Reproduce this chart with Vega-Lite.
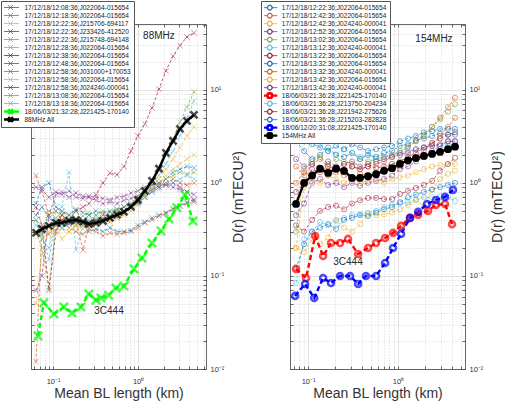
{
"$schema":"https://vega.github.io/schema/vega-lite/v6.json",
"padding":0,
"background":"white",
"config":{
 "font":"Liberation Sans",
 "view":{"stroke":null},
 "concat":{"spacing":14},
 "axis":{"domainColor":"#444","domainWidth":0.8,"tickColor":"#444","tickWidth":0.8,"labelColor":"#333","titleColor":"#333","labelFontSize":7.5,"titleFontSize":14,"titleFontWeight":"normal","labelOverlap":false,"labelFlush":false,"labelBound":false,"gridWidth":0.6}
},
"datasets":{
"N":[
{"k":"a1","label":"17/12/18/12:08:36;J022064-015654"},
{"k":"a2","label":"17/12/18/12:18:36;J022064-015654"},
{"k":"a3","label":"17/12/18/12:22:36;J215706-694117"},
{"k":"a4","label":"17/12/18/12:22:36;J233426-412520"},
{"k":"a5","label":"17/12/18/12:22:36;J215748-694148"},
{"k":"a6","label":"17/12/18/12:28:36;J022064-015654"},
{"k":"a7","label":"17/12/18/12:38:36;J022064-015654"},
{"k":"a8","label":"17/12/18/12:48:36;J022064-015654"},
{"k":"a9","label":"17/12/18/12:58:36;J031000+170053"},
{"k":"a10","label":"17/12/18/12:58:36;J022064-015654"},
{"k":"a11","label":"17/12/18/12:58:36;J024240-000041"},
{"k":"a12","label":"17/12/18/13:08:36;J022064-015654"},
{"k":"a13","label":"17/12/18/13:18:36;J022064-015654"},
{"k":"a14","label":"18/06/03/21:32:28;J221425-170140"},
{"k":"a15","label":"88MHz All"},
{"k":"b1","label":"17/12/18/12:22:36;J022064-015654"},
{"k":"b2","label":"17/12/18/12:42:36;J022064-015654"},
{"k":"b3","label":"17/12/18/12:42:36;J024240-000041"},
{"k":"b4","label":"17/12/18/12:52:36;J022064-015654"},
{"k":"b5","label":"17/12/18/13:02:36;J022064-015654"},
{"k":"b6","label":"17/12/18/13:12:36;J024240-000041"},
{"k":"b7","label":"17/12/18/13:22:36;J022064-015654"},
{"k":"b8","label":"17/12/18/13:32:36;J022064-015654"},
{"k":"b9","label":"17/12/18/13:32:36;J024240-000041"},
{"k":"b10","label":"17/12/18/13:42:36;J022064-015654"},
{"k":"b11","label":"17/12/18/13:42:36;J024240-000041"},
{"k":"b12","label":"18/06/03/21:36:28;J221425-170140"},
{"k":"b13","label":"18/06/03/21:36:28;J213750-204234"},
{"k":"b14","label":"18/06/03/21:36:28;J221942-275626"},
{"k":"b15","label":"18/06/03/21:36:28;J215203-282828"},
{"k":"b16","label":"18/06/12/20:31:08;J221425-170140"},
{"k":"b17","label":"154MHz All"}
],
"L":[
{"k":"a1","x":0.063,"y":0.45},{"k":"a1","x":0.074,"y":0.55},{"k":"a1","x":0.0895,"y":0.42},{"k":"a1","x":0.108,"y":0.38},{"k":"a1","x":0.127,"y":0.33},{"k":"a1","x":0.154,"y":0.36},{"k":"a1","x":0.186,"y":0.40},{"k":"a1","x":0.225,"y":0.35},{"k":"a1","x":0.264,"y":0.30},{"k":"a1","x":0.32,"y":0.32},{"k":"a1","x":0.386,"y":0.30},{"k":"a1","x":0.467,"y":0.33},{"k":"a1","x":0.565,"y":0.30},{"k":"a1","x":0.683,"y":0.30},{"k":"a1","x":0.825,"y":0.31},{"k":"a1","x":0.996,"y":0.35},{"k":"a1","x":1.2,"y":0.38},{"k":"a1","x":1.46,"y":0.42},{"k":"a1","x":1.76,"y":0.45},{"k":"a1","x":2.13,"y":0.48},{"k":"a1","x":2.58,"y":0.53},{"k":"a1","x":3.11,"y":0.56},{"k":"a1","x":3.76,"y":0.62},{"k":"a1","x":4.55,"y":0.66},
{"k":"a2","x":0.063,"y":0.012},{"k":"a2","x":0.074,"y":0.30},{"k":"a2","x":0.0895,"y":0.28},{"k":"a2","x":0.108,"y":0.35},{"k":"a2","x":0.127,"y":0.40},{"k":"a2","x":0.154,"y":0.33},{"k":"a2","x":0.186,"y":0.30},{"k":"a2","x":0.225,"y":0.28},{"k":"a2","x":0.264,"y":0.32},{"k":"a2","x":0.32,"y":0.30},{"k":"a2","x":0.386,"y":0.27},{"k":"a2","x":0.467,"y":0.29},{"k":"a2","x":0.565,"y":0.28},{"k":"a2","x":0.683,"y":0.29},{"k":"a2","x":0.825,"y":0.30},{"k":"a2","x":0.996,"y":0.33},{"k":"a2","x":1.2,"y":0.37},{"k":"a2","x":1.46,"y":0.40},{"k":"a2","x":1.76,"y":0.44},{"k":"a2","x":2.13,"y":0.47},{"k":"a2","x":2.58,"y":0.52},{"k":"a2","x":3.11,"y":0.57},{"k":"a2","x":3.76,"y":0.60},{"k":"a2","x":4.55,"y":0.62},
{"k":"a3","x":0.063,"y":0.05},{"k":"a3","x":0.074,"y":0.17},{"k":"a3","x":0.0895,"y":0.30},{"k":"a3","x":0.108,"y":0.35},{"k":"a3","x":0.127,"y":0.25},{"k":"a3","x":0.154,"y":0.30},{"k":"a3","x":0.186,"y":0.35},{"k":"a3","x":0.225,"y":0.32},{"k":"a3","x":0.264,"y":0.38},{"k":"a3","x":0.32,"y":0.35},{"k":"a3","x":0.386,"y":0.40},{"k":"a3","x":0.467,"y":0.38},{"k":"a3","x":0.565,"y":0.42},{"k":"a3","x":0.683,"y":0.48},{"k":"a3","x":0.825,"y":0.55},{"k":"a3","x":0.996,"y":0.62},{"k":"a3","x":1.2,"y":0.75},{"k":"a3","x":1.46,"y":0.90},{"k":"a3","x":1.76,"y":1.10},{"k":"a3","x":2.13,"y":1.40},{"k":"a3","x":2.58,"y":1.80},{"k":"a3","x":3.11,"y":2.40},{"k":"a3","x":3.76,"y":3.20},{"k":"a3","x":4.55,"y":4.0},
{"k":"a4","x":0.063,"y":0.07},{"k":"a4","x":0.074,"y":0.10},{"k":"a4","x":0.0895,"y":0.45},{"k":"a4","x":0.108,"y":0.75},{"k":"a4","x":0.127,"y":0.80},{"k":"a4","x":0.154,"y":0.70},{"k":"a4","x":0.186,"y":0.78},{"k":"a4","x":0.225,"y":0.72},{"k":"a4","x":0.264,"y":0.70},{"k":"a4","x":0.32,"y":0.65},{"k":"a4","x":0.386,"y":0.60},{"k":"a4","x":0.467,"y":0.62},{"k":"a4","x":0.565,"y":0.60},{"k":"a4","x":0.683,"y":0.65},{"k":"a4","x":0.825,"y":0.68},{"k":"a4","x":0.996,"y":0.72},{"k":"a4","x":1.2,"y":0.80},{"k":"a4","x":1.46,"y":0.85},{"k":"a4","x":1.76,"y":0.90},{"k":"a4","x":2.13,"y":0.95},{"k":"a4","x":2.58,"y":1.00},{"k":"a4","x":3.11,"y":0.90},{"k":"a4","x":3.76,"y":0.80},{"k":"a4","x":4.55,"y":0.65},
{"k":"a5","x":0.063,"y":0.30},{"k":"a5","x":0.074,"y":0.20},{"k":"a5","x":0.0895,"y":0.074},{"k":"a5","x":0.108,"y":0.35},{"k":"a5","x":0.127,"y":0.45},{"k":"a5","x":0.154,"y":0.40},{"k":"a5","x":0.186,"y":0.50},{"k":"a5","x":0.225,"y":0.38},{"k":"a5","x":0.264,"y":0.45},{"k":"a5","x":0.32,"y":0.40},{"k":"a5","x":0.386,"y":0.42},{"k":"a5","x":0.467,"y":0.45},{"k":"a5","x":0.565,"y":0.50},{"k":"a5","x":0.683,"y":0.55},{"k":"a5","x":0.825,"y":0.60},{"k":"a5","x":0.996,"y":0.70},{"k":"a5","x":1.2,"y":0.85},{"k":"a5","x":1.46,"y":1.10},{"k":"a5","x":1.76,"y":1.50},{"k":"a5","x":2.13,"y":2.00},{"k":"a5","x":2.58,"y":3.00},{"k":"a5","x":3.11,"y":4.50},{"k":"a5","x":3.76,"y":6.50},{"k":"a5","x":4.55,"y":9.5},
{"k":"a6","x":0.063,"y":0.40},{"k":"a6","x":0.074,"y":0.25},{"k":"a6","x":0.0895,"y":0.20},{"k":"a6","x":0.108,"y":0.50},{"k":"a6","x":0.127,"y":0.55},{"k":"a6","x":0.154,"y":1.30},{"k":"a6","x":0.186,"y":0.19},{"k":"a6","x":0.225,"y":0.35},{"k":"a6","x":0.264,"y":0.40},{"k":"a6","x":0.32,"y":0.45},{"k":"a6","x":0.386,"y":0.38},{"k":"a6","x":0.467,"y":0.42},{"k":"a6","x":0.565,"y":0.45},{"k":"a6","x":0.683,"y":0.50},{"k":"a6","x":0.825,"y":0.55},{"k":"a6","x":0.996,"y":0.62},{"k":"a6","x":1.2,"y":0.75},{"k":"a6","x":1.46,"y":0.95},{"k":"a6","x":1.76,"y":1.20},{"k":"a6","x":2.13,"y":1.60},{"k":"a6","x":2.58,"y":2.20},{"k":"a6","x":3.11,"y":3.20},{"k":"a6","x":3.76,"y":5.00},{"k":"a6","x":4.55,"y":7.6},
{"k":"a7","x":0.063,"y":0.55},{"k":"a7","x":0.074,"y":0.35},{"k":"a7","x":0.0895,"y":0.07},{"k":"a7","x":0.108,"y":0.30},{"k":"a7","x":0.127,"y":0.45},{"k":"a7","x":0.154,"y":0.40},{"k":"a7","x":0.186,"y":0.50},{"k":"a7","x":0.225,"y":0.55},{"k":"a7","x":0.264,"y":0.60},{"k":"a7","x":0.32,"y":0.75},{"k":"a7","x":0.386,"y":1.0},{"k":"a7","x":0.467,"y":1.28},{"k":"a7","x":0.565,"y":1.22},{"k":"a7","x":0.683,"y":1.5},{"k":"a7","x":0.825,"y":2.2},{"k":"a7","x":0.996,"y":3.2},{"k":"a7","x":1.2,"y":4.3},{"k":"a7","x":1.46,"y":6.4},{"k":"a7","x":1.76,"y":10.2},{"k":"a7","x":2.13,"y":16},{"k":"a7","x":2.58,"y":23},{"k":"a7","x":3.11,"y":30},{"k":"a7","x":3.76,"y":37},{"k":"a7","x":4.55,"y":41},
{"k":"a8","x":0.063,"y":0.60},{"k":"a8","x":0.074,"y":0.90},{"k":"a8","x":0.0895,"y":1.00},{"k":"a8","x":0.108,"y":0.55},{"k":"a8","x":0.127,"y":0.50},{"k":"a8","x":0.154,"y":0.45},{"k":"a8","x":0.186,"y":0.52},{"k":"a8","x":0.225,"y":0.48},{"k":"a8","x":0.264,"y":0.45},{"k":"a8","x":0.32,"y":0.50},{"k":"a8","x":0.386,"y":0.47},{"k":"a8","x":0.467,"y":0.50},{"k":"a8","x":0.565,"y":0.52},{"k":"a8","x":0.683,"y":0.55},{"k":"a8","x":0.825,"y":0.58},{"k":"a8","x":0.996,"y":0.62},{"k":"a8","x":1.2,"y":0.70},{"k":"a8","x":1.46,"y":0.80},{"k":"a8","x":1.76,"y":0.95},{"k":"a8","x":2.13,"y":1.10},{"k":"a8","x":2.58,"y":1.30},{"k":"a8","x":3.11,"y":1.40},{"k":"a8","x":3.76,"y":1.50},{"k":"a8","x":4.55,"y":1.45},
{"k":"a9","x":0.063,"y":1.20},{"k":"a9","x":0.074,"y":0.80},{"k":"a9","x":0.0895,"y":0.45},{"k":"a9","x":0.108,"y":0.50},{"k":"a9","x":0.127,"y":0.40},{"k":"a9","x":0.154,"y":0.45},{"k":"a9","x":0.186,"y":0.38},{"k":"a9","x":0.225,"y":0.19},{"k":"a9","x":0.264,"y":0.35},{"k":"a9","x":0.32,"y":0.40},{"k":"a9","x":0.386,"y":0.45},{"k":"a9","x":0.467,"y":0.42},{"k":"a9","x":0.565,"y":0.48},{"k":"a9","x":0.683,"y":0.50},{"k":"a9","x":0.825,"y":0.55},{"k":"a9","x":0.996,"y":0.60},{"k":"a9","x":1.2,"y":0.70},{"k":"a9","x":1.46,"y":0.80},{"k":"a9","x":1.76,"y":0.90},{"k":"a9","x":2.13,"y":1.00},{"k":"a9","x":2.58,"y":1.10},{"k":"a9","x":3.11,"y":1.00},{"k":"a9","x":3.76,"y":0.95},{"k":"a9","x":4.55,"y":1.00},
{"k":"a10","x":0.063,"y":0.30},{"k":"a10","x":0.074,"y":0.25},{"k":"a10","x":0.0895,"y":0.35},{"k":"a10","x":0.108,"y":0.28},{"k":"a10","x":0.127,"y":0.32},{"k":"a10","x":0.154,"y":0.30},{"k":"a10","x":0.186,"y":0.34},{"k":"a10","x":0.225,"y":0.36},{"k":"a10","x":0.264,"y":0.33},{"k":"a10","x":0.32,"y":0.38},{"k":"a10","x":0.386,"y":0.40},{"k":"a10","x":0.467,"y":0.38},{"k":"a10","x":0.565,"y":0.42},{"k":"a10","x":0.683,"y":0.45},{"k":"a10","x":0.825,"y":0.50},{"k":"a10","x":0.996,"y":0.58},{"k":"a10","x":1.2,"y":0.70},{"k":"a10","x":1.46,"y":0.85},{"k":"a10","x":1.76,"y":1.00},{"k":"a10","x":2.13,"y":1.20},{"k":"a10","x":2.58,"y":1.40},{"k":"a10","x":3.11,"y":1.60},{"k":"a10","x":3.76,"y":1.80},{"k":"a10","x":4.55,"y":2.0},
{"k":"a11","x":0.063,"y":0.90},{"k":"a11","x":0.074,"y":0.85},{"k":"a11","x":0.0895,"y":0.70},{"k":"a11","x":0.108,"y":0.80},{"k":"a11","x":0.127,"y":0.75},{"k":"a11","x":0.154,"y":0.82},{"k":"a11","x":0.186,"y":0.70},{"k":"a11","x":0.225,"y":0.68},{"k":"a11","x":0.264,"y":0.72},{"k":"a11","x":0.32,"y":0.70},{"k":"a11","x":0.386,"y":0.68},{"k":"a11","x":0.467,"y":0.66},{"k":"a11","x":0.565,"y":0.70},{"k":"a11","x":0.683,"y":0.72},{"k":"a11","x":0.825,"y":0.78},{"k":"a11","x":0.996,"y":0.82},{"k":"a11","x":1.2,"y":0.90},{"k":"a11","x":1.46,"y":0.95},{"k":"a11","x":1.76,"y":1.00},{"k":"a11","x":2.13,"y":0.95},{"k":"a11","x":2.58,"y":0.90},{"k":"a11","x":3.11,"y":0.85},{"k":"a11","x":3.76,"y":0.80},{"k":"a11","x":4.55,"y":0.75},
{"k":"a12","x":0.063,"y":0.40},{"k":"a12","x":0.074,"y":0.28},{"k":"a12","x":0.0895,"y":0.50},{"k":"a12","x":0.108,"y":0.42},{"k":"a12","x":0.127,"y":0.48},{"k":"a12","x":0.154,"y":0.45},{"k":"a12","x":0.186,"y":0.40},{"k":"a12","x":0.225,"y":0.44},{"k":"a12","x":0.264,"y":0.48},{"k":"a12","x":0.32,"y":0.45},{"k":"a12","x":0.386,"y":0.50},{"k":"a12","x":0.467,"y":0.48},{"k":"a12","x":0.565,"y":0.52},{"k":"a12","x":0.683,"y":0.55},{"k":"a12","x":0.825,"y":0.60},{"k":"a12","x":0.996,"y":0.65},{"k":"a12","x":1.2,"y":0.75},{"k":"a12","x":1.46,"y":0.85},{"k":"a12","x":1.76,"y":1.00},{"k":"a12","x":2.13,"y":1.10},{"k":"a12","x":2.58,"y":1.20},{"k":"a12","x":3.11,"y":1.30},{"k":"a12","x":3.76,"y":1.25},{"k":"a12","x":4.55,"y":1.30},
{"k":"a13","x":0.063,"y":0.35},{"k":"a13","x":0.074,"y":0.30},{"k":"a13","x":0.0895,"y":0.15},{"k":"a13","x":0.108,"y":0.40},{"k":"a13","x":0.127,"y":0.38},{"k":"a13","x":0.154,"y":0.42},{"k":"a13","x":0.186,"y":0.36},{"k":"a13","x":0.225,"y":0.40},{"k":"a13","x":0.264,"y":0.38},{"k":"a13","x":0.32,"y":0.42},{"k":"a13","x":0.386,"y":0.40},{"k":"a13","x":0.467,"y":0.44},{"k":"a13","x":0.565,"y":0.46},{"k":"a13","x":0.683,"y":0.50},{"k":"a13","x":0.825,"y":0.55},{"k":"a13","x":0.996,"y":0.60},{"k":"a13","x":1.2,"y":0.70},{"k":"a13","x":1.46,"y":0.80},{"k":"a13","x":1.76,"y":0.85},{"k":"a13","x":2.13,"y":0.95},{"k":"a13","x":2.58,"y":1.00},{"k":"a13","x":3.11,"y":1.10},{"k":"a13","x":3.76,"y":1.20},{"k":"a13","x":4.55,"y":1.10},
{"k":"a14","x":0.0664,"y":0.0227},{"k":"a14","x":0.078,"y":0.0513},{"k":"a14","x":0.1025,"y":0.039},{"k":"a14","x":0.134,"y":0.0464},{"k":"a14","x":0.167,"y":0.040},{"k":"a14","x":0.213,"y":0.0464},{"k":"a14","x":0.264,"y":0.064},{"k":"a14","x":0.32,"y":0.055},{"k":"a14","x":0.366,"y":0.058},{"k":"a14","x":0.45,"y":0.062},{"k":"a14","x":0.55,"y":0.0743},{"k":"a14","x":0.683,"y":0.078},{"k":"a14","x":0.895,"y":0.119},{"k":"a14","x":1.11,"y":0.156},{"k":"a14","x":1.46,"y":0.226},{"k":"a14","x":1.86,"y":0.305},{"k":"a14","x":2.31,"y":0.41},{"k":"a14","x":2.87,"y":0.54},{"k":"a14","x":3.56,"y":0.743},{"k":"a14","x":4.43,"y":0.39},
{"k":"a15","x":0.063,"y":0.29},{"k":"a15","x":0.074,"y":0.32},{"k":"a15","x":0.0895,"y":0.345},{"k":"a15","x":0.108,"y":0.372},{"k":"a15","x":0.127,"y":0.372},{"k":"a15","x":0.154,"y":0.39},{"k":"a15","x":0.186,"y":0.40},{"k":"a15","x":0.225,"y":0.381},{"k":"a15","x":0.264,"y":0.362},{"k":"a15","x":0.32,"y":0.372},{"k":"a15","x":0.386,"y":0.39},{"k":"a15","x":0.467,"y":0.421},{"k":"a15","x":0.565,"y":0.453},{"k":"a15","x":0.683,"y":0.488},{"k":"a15","x":0.825,"y":0.552},{"k":"a15","x":0.996,"y":0.656},{"k":"a15","x":1.2,"y":0.82},{"k":"a15","x":1.46,"y":1.05},{"k":"a15","x":1.76,"y":1.42},{"k":"a15","x":2.13,"y":2.1},{"k":"a15","x":2.58,"y":2.83},{"k":"a15","x":3.11,"y":3.81},{"k":"a15","x":3.76,"y":4.64},{"k":"a15","x":4.55,"y":5.38}
],
"R":[
{"k":"b1","x":0.0735,"y":2.8},{"k":"b1","x":0.0903,"y":2.2},{"k":"b1","x":0.111,"y":1.8},{"k":"b1","x":0.136,"y":2.0},{"k":"b1","x":0.167,"y":2.4},{"k":"b1","x":0.205,"y":2.0},{"k":"b1","x":0.251,"y":1.9},{"k":"b1","x":0.308,"y":2.1},{"k":"b1","x":0.378,"y":1.8},{"k":"b1","x":0.464,"y":2.0},{"k":"b1","x":0.57,"y":1.9},{"k":"b1","x":0.699,"y":2.1},{"k":"b1","x":0.858,"y":2.2},{"k":"b1","x":1.05,"y":2.5},{"k":"b1","x":1.29,"y":2.6},{"k":"b1","x":1.58,"y":2.9},{"k":"b1","x":1.94,"y":3.0},{"k":"b1","x":2.39,"y":3.2},{"k":"b1","x":2.93,"y":3.4},{"k":"b1","x":3.59,"y":3.3},{"k":"b1","x":4.3,"y":3.3},
{"k":"b2","x":0.0735,"y":1.5},{"k":"b2","x":0.0903,"y":1.2},{"k":"b2","x":0.111,"y":1.6},{"k":"b2","x":0.136,"y":1.8},{"k":"b2","x":0.167,"y":1.5},{"k":"b2","x":0.205,"y":1.4},{"k":"b2","x":0.251,"y":1.6},{"k":"b2","x":0.308,"y":1.5},{"k":"b2","x":0.378,"y":1.4},{"k":"b2","x":0.464,"y":1.5},{"k":"b2","x":0.57,"y":1.6},{"k":"b2","x":0.699,"y":1.7},{"k":"b2","x":0.858,"y":1.9},{"k":"b2","x":1.05,"y":2.1},{"k":"b2","x":1.29,"y":2.4},{"k":"b2","x":1.58,"y":2.8},{"k":"b2","x":1.94,"y":3.2},{"k":"b2","x":2.39,"y":4.0},{"k":"b2","x":2.93,"y":5.0},{"k":"b2","x":3.59,"y":6.5},{"k":"b2","x":4.3,"y":8.2},
{"k":"b3","x":0.0735,"y":0.20},{"k":"b3","x":0.0903,"y":0.18},{"k":"b3","x":0.111,"y":0.25},{"k":"b3","x":0.136,"y":0.22},{"k":"b3","x":0.167,"y":0.26},{"k":"b3","x":0.205,"y":0.39},{"k":"b3","x":0.251,"y":0.33},{"k":"b3","x":0.308,"y":0.30},{"k":"b3","x":0.378,"y":0.36},{"k":"b3","x":0.464,"y":0.46},{"k":"b3","x":0.57,"y":0.45},{"k":"b3","x":0.699,"y":0.46},{"k":"b3","x":0.858,"y":0.48},{"k":"b3","x":1.05,"y":0.52},{"k":"b3","x":1.29,"y":0.58},{"k":"b3","x":1.58,"y":0.65},{"k":"b3","x":1.94,"y":0.56},{"k":"b3","x":2.39,"y":0.85},{"k":"b3","x":2.93,"y":1.1},{"k":"b3","x":3.59,"y":1.25},{"k":"b3","x":4.3,"y":1.35},
{"k":"b4","x":0.0735,"y":0.45},{"k":"b4","x":0.0903,"y":0.6},{"k":"b4","x":0.111,"y":1.0},{"k":"b4","x":0.136,"y":1.1},{"k":"b4","x":0.167,"y":0.95},{"k":"b4","x":0.205,"y":1.0},{"k":"b4","x":0.251,"y":0.9},{"k":"b4","x":0.308,"y":1.0},{"k":"b4","x":0.378,"y":0.93},{"k":"b4","x":0.464,"y":1.0},{"k":"b4","x":0.57,"y":1.05},{"k":"b4","x":0.699,"y":1.1},{"k":"b4","x":0.858,"y":1.2},{"k":"b4","x":1.05,"y":1.4},{"k":"b4","x":1.29,"y":1.5},{"k":"b4","x":1.58,"y":1.7},{"k":"b4","x":1.94,"y":1.9},{"k":"b4","x":2.39,"y":2.2},{"k":"b4","x":2.93,"y":2.5},{"k":"b4","x":3.59,"y":2.8},{"k":"b4","x":4.3,"y":2.8},
{"k":"b5","x":0.0735,"y":0.3},{"k":"b5","x":0.0903,"y":1.4},{"k":"b5","x":0.111,"y":1.7},{"k":"b5","x":0.136,"y":1.9},{"k":"b5","x":0.167,"y":1.6},{"k":"b5","x":0.205,"y":1.8},{"k":"b5","x":0.251,"y":1.7},{"k":"b5","x":0.308,"y":1.6},{"k":"b5","x":0.378,"y":1.8},{"k":"b5","x":0.464,"y":1.7},{"k":"b5","x":0.57,"y":1.8},{"k":"b5","x":0.699,"y":1.9},{"k":"b5","x":0.858,"y":2.0},{"k":"b5","x":1.05,"y":2.2},{"k":"b5","x":1.29,"y":2.5},{"k":"b5","x":1.58,"y":2.8},{"k":"b5","x":1.94,"y":3.3},{"k":"b5","x":2.39,"y":4.0},{"k":"b5","x":2.93,"y":4.8},{"k":"b5","x":3.59,"y":5.8},{"k":"b5","x":4.3,"y":7.0},
{"k":"b6","x":0.0735,"y":4.0},{"k":"b6","x":0.0903,"y":3.6},{"k":"b6","x":0.111,"y":3.0},{"k":"b6","x":0.136,"y":2.6},{"k":"b6","x":0.167,"y":2.2},{"k":"b6","x":0.205,"y":2.0},{"k":"b6","x":0.251,"y":2.3},{"k":"b6","x":0.308,"y":2.1},{"k":"b6","x":0.378,"y":1.9},{"k":"b6","x":0.464,"y":2.0},{"k":"b6","x":0.57,"y":1.8},{"k":"b6","x":0.699,"y":1.9},{"k":"b6","x":0.858,"y":2.0},{"k":"b6","x":1.05,"y":2.1},{"k":"b6","x":1.29,"y":2.2},{"k":"b6","x":1.58,"y":2.3},{"k":"b6","x":1.94,"y":2.4},{"k":"b6","x":2.39,"y":2.5},{"k":"b6","x":2.93,"y":2.5},{"k":"b6","x":3.59,"y":2.6},{"k":"b6","x":4.3,"y":2.6},
{"k":"b7","x":0.0735,"y":0.8},{"k":"b7","x":0.0903,"y":1.0},{"k":"b7","x":0.111,"y":1.4},{"k":"b7","x":0.136,"y":1.3},{"k":"b7","x":0.167,"y":1.5},{"k":"b7","x":0.205,"y":1.4},{"k":"b7","x":0.251,"y":1.3},{"k":"b7","x":0.308,"y":1.5},{"k":"b7","x":0.378,"y":1.4},{"k":"b7","x":0.464,"y":1.5},{"k":"b7","x":0.57,"y":1.45},{"k":"b7","x":0.699,"y":1.5},{"k":"b7","x":0.858,"y":1.6},{"k":"b7","x":1.05,"y":1.7},{"k":"b7","x":1.29,"y":1.9},{"k":"b7","x":1.58,"y":2.1},{"k":"b7","x":1.94,"y":2.4},{"k":"b7","x":2.39,"y":2.7},{"k":"b7","x":2.93,"y":3.0},{"k":"b7","x":3.59,"y":3.3},{"k":"b7","x":4.3,"y":3.5},
{"k":"b8","x":0.0735,"y":3.2},{"k":"b8","x":0.0903,"y":2.8},{"k":"b8","x":0.111,"y":2.6},{"k":"b8","x":0.136,"y":2.4},{"k":"b8","x":0.167,"y":2.2},{"k":"b8","x":0.205,"y":2.5},{"k":"b8","x":0.251,"y":2.3},{"k":"b8","x":0.308,"y":2.6},{"k":"b8","x":0.378,"y":2.4},{"k":"b8","x":0.464,"y":2.2},{"k":"b8","x":0.57,"y":2.3},{"k":"b8","x":0.699,"y":2.4},{"k":"b8","x":0.858,"y":2.5},{"k":"b8","x":1.05,"y":2.8},{"k":"b8","x":1.29,"y":3.0},{"k":"b8","x":1.58,"y":3.2},{"k":"b8","x":1.94,"y":3.5},{"k":"b8","x":2.39,"y":3.6},{"k":"b8","x":2.93,"y":3.8},{"k":"b8","x":3.59,"y":3.8},{"k":"b8","x":4.3,"y":3.8},
{"k":"b9","x":0.0735,"y":1.0},{"k":"b9","x":0.0903,"y":1.3},{"k":"b9","x":0.111,"y":1.2},{"k":"b9","x":0.136,"y":1.4},{"k":"b9","x":0.167,"y":1.2},{"k":"b9","x":0.205,"y":1.3},{"k":"b9","x":0.251,"y":1.2},{"k":"b9","x":0.308,"y":1.1},{"k":"b9","x":0.378,"y":1.25},{"k":"b9","x":0.464,"y":1.2},{"k":"b9","x":0.57,"y":1.3},{"k":"b9","x":0.699,"y":1.35},{"k":"b9","x":0.858,"y":1.4},{"k":"b9","x":1.05,"y":1.5},{"k":"b9","x":1.29,"y":1.7},{"k":"b9","x":1.58,"y":1.9},{"k":"b9","x":1.94,"y":2.2},{"k":"b9","x":2.39,"y":2.6},{"k":"b9","x":2.93,"y":3.2},{"k":"b9","x":3.59,"y":4.0},{"k":"b9","x":4.3,"y":5.0},
{"k":"b10","x":0.0735,"y":0.2},{"k":"b10","x":0.0903,"y":0.9},{"k":"b10","x":0.111,"y":1.1},{"k":"b10","x":0.136,"y":1.0},{"k":"b10","x":0.167,"y":1.2},{"k":"b10","x":0.205,"y":1.1},{"k":"b10","x":0.251,"y":1.0},{"k":"b10","x":0.308,"y":1.1},{"k":"b10","x":0.378,"y":1.0},{"k":"b10","x":0.464,"y":1.05},{"k":"b10","x":0.57,"y":1.1},{"k":"b10","x":0.699,"y":1.0},{"k":"b10","x":0.858,"y":1.1},{"k":"b10","x":1.05,"y":1.15},{"k":"b10","x":1.29,"y":1.2},{"k":"b10","x":1.58,"y":1.3},{"k":"b10","x":1.94,"y":1.4},{"k":"b10","x":2.39,"y":1.5},{"k":"b10","x":2.93,"y":1.55},{"k":"b10","x":3.59,"y":1.6},{"k":"b10","x":4.3,"y":1.6},
{"k":"b11","x":0.0735,"y":1.8},{"k":"b11","x":0.0903,"y":1.5},{"k":"b11","x":0.111,"y":1.6},{"k":"b11","x":0.136,"y":1.4},{"k":"b11","x":0.167,"y":1.7},{"k":"b11","x":0.205,"y":1.5},{"k":"b11","x":0.251,"y":1.6},{"k":"b11","x":0.308,"y":1.7},{"k":"b11","x":0.378,"y":1.5},{"k":"b11","x":0.464,"y":1.6},{"k":"b11","x":0.57,"y":1.7},{"k":"b11","x":0.699,"y":1.8},{"k":"b11","x":0.858,"y":1.9},{"k":"b11","x":1.05,"y":2.0},{"k":"b11","x":1.29,"y":2.1},{"k":"b11","x":1.58,"y":2.3},{"k":"b11","x":1.94,"y":2.4},{"k":"b11","x":2.39,"y":2.5},{"k":"b11","x":2.93,"y":2.6},{"k":"b11","x":3.59,"y":2.8},{"k":"b11","x":4.3,"y":2.8},
{"k":"b12","x":0.0735,"y":0.119},{"k":"b12","x":0.095,"y":0.095},{"k":"b12","x":0.12,"y":0.269},{"k":"b12","x":0.147,"y":0.164},{"k":"b12","x":0.18,"y":0.226},{"k":"b12","x":0.227,"y":0.226},{"k":"b12","x":0.278,"y":0.25},{"k":"b12","x":0.36,"y":0.172},{"k":"b12","x":0.464,"y":0.20},{"k":"b12","x":0.57,"y":0.226},{"k":"b12","x":0.718,"y":0.256},{"k":"b12","x":0.88,"y":0.29},{"k":"b12","x":1.08,"y":0.345},{"k":"b12","x":1.36,"y":0.421},{"k":"b12","x":1.67,"y":0.453},{"k":"b12","x":2.15,"y":0.50},{"k":"b12","x":2.64,"y":0.58},{"k":"b12","x":3.33,"y":0.594},{"k":"b12","x":3.98,"y":0.36},
{"k":"b13","x":0.0735,"y":0.084},{"k":"b13","x":0.0903,"y":0.25},{"k":"b13","x":0.111,"y":0.30},{"k":"b13","x":0.136,"y":0.38},{"k":"b13","x":0.167,"y":0.35},{"k":"b13","x":0.205,"y":0.40},{"k":"b13","x":0.251,"y":0.42},{"k":"b13","x":0.308,"y":0.45},{"k":"b13","x":0.378,"y":0.46},{"k":"b13","x":0.464,"y":0.48},{"k":"b13","x":0.57,"y":0.50},{"k":"b13","x":0.699,"y":0.55},{"k":"b13","x":0.858,"y":0.58},{"k":"b13","x":1.05,"y":0.60},{"k":"b13","x":1.29,"y":0.62},{"k":"b13","x":1.58,"y":0.66},{"k":"b13","x":1.94,"y":0.70},{"k":"b13","x":2.39,"y":0.70},{"k":"b13","x":2.93,"y":0.72},{"k":"b13","x":3.59,"y":0.70},{"k":"b13","x":4.3,"y":0.64},
{"k":"b14","x":0.0735,"y":0.35},{"k":"b14","x":0.0903,"y":0.30},{"k":"b14","x":0.111,"y":0.40},{"k":"b14","x":0.136,"y":0.50},{"k":"b14","x":0.167,"y":0.55},{"k":"b14","x":0.205,"y":0.57},{"k":"b14","x":0.251,"y":0.52},{"k":"b14","x":0.308,"y":0.60},{"k":"b14","x":0.378,"y":0.65},{"k":"b14","x":0.464,"y":0.69},{"k":"b14","x":0.57,"y":0.69},{"k":"b14","x":0.699,"y":0.67},{"k":"b14","x":0.858,"y":0.67},{"k":"b14","x":1.05,"y":0.76},{"k":"b14","x":1.29,"y":0.82},{"k":"b14","x":1.58,"y":0.88},{"k":"b14","x":1.94,"y":0.95},{"k":"b14","x":2.39,"y":1.05},{"k":"b14","x":2.93,"y":1.35},{"k":"b14","x":3.59,"y":1.6},{"k":"b14","x":4.3,"y":1.86},
{"k":"b15","x":0.0735,"y":0.12},{"k":"b15","x":0.0903,"y":0.22},{"k":"b15","x":0.111,"y":0.30},{"k":"b15","x":0.136,"y":0.33},{"k":"b15","x":0.167,"y":0.36},{"k":"b15","x":0.205,"y":0.32},{"k":"b15","x":0.251,"y":0.40},{"k":"b15","x":0.308,"y":0.42},{"k":"b15","x":0.378,"y":0.45},{"k":"b15","x":0.464,"y":0.44},{"k":"b15","x":0.57,"y":0.48},{"k":"b15","x":0.699,"y":0.52},{"k":"b15","x":0.858,"y":0.55},{"k":"b15","x":1.05,"y":0.62},{"k":"b15","x":1.29,"y":0.70},{"k":"b15","x":1.58,"y":0.75},{"k":"b15","x":1.94,"y":0.80},{"k":"b15","x":2.39,"y":0.85},{"k":"b15","x":2.93,"y":0.90},{"k":"b15","x":3.59,"y":0.95},{"k":"b15","x":4.3,"y":1.0},
{"k":"b16","x":0.0717,"y":0.061},{"k":"b16","x":0.0926,"y":0.082},{"k":"b16","x":0.117,"y":0.058},{"k":"b16","x":0.147,"y":0.095},{"k":"b16","x":0.18,"y":0.084},{"k":"b16","x":0.227,"y":0.1},{"k":"b16","x":0.293,"y":0.1},{"k":"b16","x":0.36,"y":0.082},{"k":"b16","x":0.44,"y":0.1},{"k":"b16","x":0.57,"y":0.1},{"k":"b16","x":0.718,"y":0.138},{"k":"b16","x":0.88,"y":0.20},{"k":"b16","x":1.08,"y":0.283},{"k":"b16","x":1.36,"y":0.421},{"k":"b16","x":1.67,"y":0.488},{"k":"b16","x":2.1,"y":0.594},{"k":"b16","x":2.64,"y":0.656},{"k":"b16","x":3.33,"y":0.707},{"k":"b16","x":4.08,"y":0.841},
{"k":"b17","x":0.0735,"y":0.594},{"k":"b17","x":0.0903,"y":1.0},{"k":"b17","x":0.111,"y":1.2},{"k":"b17","x":0.136,"y":1.42},{"k":"b17","x":0.167,"y":1.28},{"k":"b17","x":0.205,"y":1.42},{"k":"b17","x":0.251,"y":1.35},{"k":"b17","x":0.308,"y":1.13},{"k":"b17","x":0.378,"y":1.13},{"k":"b17","x":0.464,"y":1.18},{"k":"b17","x":0.57,"y":1.24},{"k":"b17","x":0.699,"y":1.35},{"k":"b17","x":0.858,"y":1.44},{"k":"b17","x":1.05,"y":1.6},{"k":"b17","x":1.29,"y":1.75},{"k":"b17","x":1.58,"y":1.85},{"k":"b17","x":1.94,"y":1.95},{"k":"b17","x":2.39,"y":2.05},{"k":"b17","x":2.93,"y":2.15},{"k":"b17","x":3.59,"y":2.3},{"k":"b17","x":4.3,"y":2.45}
]
},
"resolve":{"scale":{"color":"independent"}},
"hconcat":[
{
 "width":175,"height":345,
 "data":{"name":"L"},
 "transform":[{"lookup":"k","from":{"data":{"name":"N"},"key":"k","fields":["label"]}}],
 "resolve":{"axis":{"x":"independent","y":"independent"}},
 "layer":[
  {
   "transform":[{"filter":"datum.k!='a14' && datum.k!='a15'"}],
   "mark":{"type":"line","strokeWidth":0.7,"strokeDash":[3,2]},
   "encoding":{
    "x":{"field":"x","type":"quantitative","scale":{"type":"log","domain":[0.055,6.3],"nice":false},
     "axis":{"orient":"bottom","values":[0.06,0.07,0.08,0.09,0.1,0.2,0.3,0.4,0.5,0.6,0.7,0.8,0.9,1,2,3,4,5,6],"labelExpr":"datum.value==0.1?'10⁻¹':datum.value==1?'10⁰':''","grid":true,"gridColor":{"condition":{"test":"datum.value==0.1||datum.value==1","value":"#d0d0d0"},"value":"#bdbdbd"},"gridDash":{"condition":{"test":"datum.value==0.1||datum.value==1","value":[]},"value":[1,2]},"tickSize":-3,"labelPadding":11,"title":"Mean BL length (km)","titlePadding":2}},
    "y":{"field":"y","type":"quantitative","scale":{"type":"log","domain":[0.01,51],"nice":false},
     "axis":{"orient":"right","values":[0.01,0.02,0.03,0.04,0.05,0.06,0.07,0.08,0.09,0.1,0.2,0.3,0.4,0.5,0.6,0.7,0.8,0.9,1,2,3,4,5,6,7,8,9,10,20,30,40,50],"labelExpr":"datum.value==0.01?'10⁻²':datum.value==0.1?'10⁻¹':datum.value==1?'10⁰':datum.value==10?'10¹':''","grid":true,"gridColor":{"condition":{"test":"datum.value==0.01||datum.value==0.1||datum.value==1||datum.value==10","value":"#d0d0d0"},"value":"#bdbdbd"},"gridDash":{"condition":{"test":"datum.value==0.01||datum.value==0.1||datum.value==1||datum.value==10","value":[]},"value":[1,2]},"tickSize":-3,"labelPadding":7,"title":"D(r) (mTECU²)","titleAngle":270,"titleBaseline":"top","titlePadding":8}},
    "color":{"field":"label","type":"nominal",
     "scale":{"domain":["17/12/18/12:08:36;J022064-015654","17/12/18/12:18:36;J022064-015654","17/12/18/12:22:36;J215706-694117","17/12/18/12:22:36;J233426-412520","17/12/18/12:22:36;J215748-694148","17/12/18/12:28:36;J022064-015654","17/12/18/12:38:36;J022064-015654","17/12/18/12:48:36;J022064-015654","17/12/18/12:58:36;J031000+170053","17/12/18/12:58:36;J022064-015654","17/12/18/12:58:36;J024240-000041","17/12/18/13:08:36;J022064-015654","17/12/18/13:18:36;J022064-015654","18/06/03/21:32:28;J221425-170140","88MHz All"],
      "range":["#0072BD","#D95319","#EDB120","#7E2F8E","#77AC30","#4DBEEE","#A2142F","#0072BD","#D95319","#EDB120","#7E2F8E","#77AC30","#4DBEEE","#00FF00","#000000"]},
     "legend":{"title":null,"orient":"none","legendX":-30,"legendY":-23,"zindex":5,"fillColor":"white","strokeColor":"#555","padding":3,"labelFontSize":6.6,"labelColor":"#222","rowPadding":0,"clipHeight":7,"symbolType":"M-4.2,0H4.2M-1.2,-1.2L1.2,1.2M-1.2,1.2L1.2,-1.2","symbolSize":16,"symbolDash":[],"symbolStrokeWidth":{"expr":"datum.value=='88MHz All'||datum.value=='18/06/03/21:32:28;J221425-170140'?2.4:0.8"},"labelOffset":10.5,"symbolOffset":3.3,"labelLimit":300}}
   }
  },
  {
   "transform":[{"filter":"datum.k!='a14' && datum.k!='a15'"}],
   "mark":{"type":"point","shape":"M-1,-1L1,1M-1,1L1,-1","size":28,"strokeWidth":0.7,"filled":false},
   "encoding":{
    "x":{"field":"x","type":"quantitative","scale":{"type":"log","domain":[0.055,6.3],"nice":false},
     "axis":{"orient":"top","values":[0.06,0.07,0.08,0.09,0.1,0.2,0.3,0.4,0.5,0.6,0.7,0.8,0.9,1,2,3,4,5,6],"labels":false,"grid":false,"tickSize":-3,"title":null}},
    "y":{"field":"y","type":"quantitative","scale":{"type":"log","domain":[0.01,51],"nice":false},
     "axis":{"orient":"left","values":[0.01,0.02,0.03,0.04,0.05,0.06,0.07,0.08,0.09,0.1,0.2,0.3,0.4,0.5,0.6,0.7,0.8,0.9,1,2,3,4,5,6,7,8,9,10,20,30,40,50],"labels":false,"grid":false,"tickSize":-3,"title":null}},
    "color":{"field":"label","type":"nominal","legend":null}
   }
  },
  {
   "transform":[{"filter":"datum.k=='a14'"}],
   "mark":{"type":"line","strokeWidth":2.4,"strokeDash":[5,3]},
   "encoding":{
    "x":{"field":"x","type":"quantitative","scale":{"type":"log","domain":[0.055,6.3],"nice":false},"axis":null},
    "y":{"field":"y","type":"quantitative","scale":{"type":"log","domain":[0.01,51],"nice":false},"axis":null},
    "color":{"field":"label","type":"nominal","legend":null}
   }
  },
  {
   "transform":[{"filter":"datum.k=='a14'"}],
   "mark":{"type":"point","shape":"M-1,-1L1,1M-1,1L1,-1","size":70,"strokeWidth":2.5,"filled":false},
   "encoding":{
    "x":{"field":"x","type":"quantitative","scale":{"type":"log","domain":[0.055,6.3],"nice":false},"axis":null},
    "y":{"field":"y","type":"quantitative","scale":{"type":"log","domain":[0.01,51],"nice":false},"axis":null},
    "color":{"field":"label","type":"nominal","legend":null}
   }
  },
  {
   "transform":[{"filter":"datum.k=='a15'"}],
   "mark":{"type":"line","strokeWidth":2.4},
   "encoding":{
    "x":{"field":"x","type":"quantitative","scale":{"type":"log","domain":[0.055,6.3],"nice":false},"axis":null},
    "y":{"field":"y","type":"quantitative","scale":{"type":"log","domain":[0.01,51],"nice":false},"axis":null},
    "color":{"field":"label","type":"nominal","legend":null}
   }
  },
  {
   "transform":[{"filter":"datum.k=='a15'"}],
   "mark":{"type":"point","shape":"M-1,-1L1,1M-1,1L1,-1","size":50,"strokeWidth":2.6,"filled":false},
   "encoding":{
    "x":{"field":"x","type":"quantitative","scale":{"type":"log","domain":[0.055,6.3],"nice":false},"axis":null},
    "y":{"field":"y","type":"quantitative","scale":{"type":"log","domain":[0.01,51],"nice":false},"axis":null},
    "color":{"field":"label","type":"nominal","legend":null}
   }
  },
  {
   "data":{"values":[{"x":0.4545,"y":0.0421,"t":"3C444"},{"x":1.76,"y":38,"t":"88MHz"}]},
   "mark":{"type":"text","fontSize":10,"color":"#262626","align":"center","baseline":"middle"},
   "encoding":{
    "x":{"field":"x","type":"quantitative","scale":{"type":"log","domain":[0.055,6.3],"nice":false},"axis":null},
    "y":{"field":"y","type":"quantitative","scale":{"type":"log","domain":[0.01,51],"nice":false},"axis":null},
    "text":{"field":"t"}
   }
  }
 ]
},
{
 "width":175,"height":345,
 "data":{"name":"R"},
 "transform":[{"lookup":"k","from":{"data":{"name":"N"},"key":"k","fields":["label"]}}],
 "resolve":{"axis":{"x":"independent","y":"independent"}},
 "layer":[
  {
   "transform":[{"filter":"datum.k!='b12' && datum.k!='b16' && datum.k!='b17'"}],
   "mark":{"type":"line","strokeWidth":0.7,"strokeDash":[3,2]},
   "encoding":{
    "x":{"field":"x","type":"quantitative","scale":{"type":"log","domain":[0.063,5.55],"nice":false},
     "axis":{"orient":"bottom","values":[0.07,0.08,0.09,0.1,0.2,0.3,0.4,0.5,0.6,0.7,0.8,0.9,1,2,3,4,5],"labelExpr":"datum.value==0.1?'10⁻¹':datum.value==1?'10⁰':''","grid":true,"gridColor":{"condition":{"test":"datum.value==0.1||datum.value==1","value":"#d0d0d0"},"value":"#bdbdbd"},"gridDash":{"condition":{"test":"datum.value==0.1||datum.value==1","value":[]},"value":[1,2]},"tickSize":-3,"labelPadding":11,"title":"Mean BL length (km)","titlePadding":2}},
    "y":{"field":"y","type":"quantitative","scale":{"type":"log","domain":[0.01,51],"nice":false},
     "axis":{"orient":"right","values":[0.01,0.02,0.03,0.04,0.05,0.06,0.07,0.08,0.09,0.1,0.2,0.3,0.4,0.5,0.6,0.7,0.8,0.9,1,2,3,4,5,6,7,8,9,10,20,30,40,50],"labelExpr":"datum.value==0.01?'10⁻²':datum.value==0.1?'10⁻¹':datum.value==1?'10⁰':datum.value==10?'10¹':''","grid":true,"gridColor":{"condition":{"test":"datum.value==0.01||datum.value==0.1||datum.value==1||datum.value==10","value":"#d0d0d0"},"value":"#bdbdbd"},"gridDash":{"condition":{"test":"datum.value==0.01||datum.value==0.1||datum.value==1||datum.value==10","value":[]},"value":[1,2]},"tickSize":-3,"labelPadding":7,"title":"D(r) (mTECU²)","titleAngle":270,"titleBaseline":"top","titlePadding":8}},
    "color":{"field":"label","type":"nominal",
     "scale":{"domain":["17/12/18/12:22:36;J022064-015654","17/12/18/12:42:36;J022064-015654","17/12/18/12:42:36;J024240-000041","17/12/18/12:52:36;J022064-015654","17/12/18/13:02:36;J022064-015654","17/12/18/13:12:36;J024240-000041","17/12/18/13:22:36;J022064-015654","17/12/18/13:32:36;J022064-015654","17/12/18/13:32:36;J024240-000041","17/12/18/13:42:36;J022064-015654","17/12/18/13:42:36;J024240-000041","18/06/03/21:36:28;J221425-170140","18/06/03/21:36:28;J213750-204234","18/06/03/21:36:28;J221942-275626","18/06/03/21:36:28;J215203-282828","18/06/12/20:31:08;J221425-170140","154MHz All"],
      "range":["#0072BD","#D95319","#EDB120","#7E2F8E","#77AC30","#4DBEEE","#A2142F","#0072BD","#D95319","#EDB120","#7E2F8E","#FF0000","#4DBEEE","#A2142F","#0072BD","#0000FF","#000000"]},
     "legend":{"title":null,"orient":"none","legendX":-29,"legendY":-23,"zindex":5,"fillColor":"white","strokeColor":"#555","padding":3,"labelFontSize":6.6,"labelColor":"#222","rowPadding":0,"clipHeight":7.3,"symbolType":{"expr":"datum.value=='154MHz All'?'M-3.75,0H3.75M1.3,0A1.3,1.3,0,1,1,-1.3,0A1.3,1.3,0,1,1,1.3,0Z':'M-3.75,0H-1.3M1.3,0H3.75M1.3,0A1.3,1.3,0,1,1,-1.3,0A1.3,1.3,0,1,1,1.3,0ZM1.05,0A1.05,1.05,0,1,0,-1.05,0A1.05,1.05,0,1,0,1.05,0Z'"},"symbolSize":16,"symbolDash":[],"symbolStrokeWidth":{"expr":"datum.value=='154MHz All'||datum.value=='18/06/03/21:36:28;J221425-170140'||datum.value=='18/06/12/20:31:08;J221425-170140'?2.2:0.8"},"labelOffset":8.7,"symbolOffset":2.5,"labelLimit":300}}
   }
  },
  {
   "transform":[{"filter":"datum.k!='b12' && datum.k!='b16' && datum.k!='b17'"}],
   "mark":{"type":"point","shape":"circle","size":26,"strokeWidth":0.8,"filled":false},
   "encoding":{
    "x":{"field":"x","type":"quantitative","scale":{"type":"log","domain":[0.063,5.55],"nice":false},
     "axis":{"orient":"top","values":[0.07,0.08,0.09,0.1,0.2,0.3,0.4,0.5,0.6,0.7,0.8,0.9,1,2,3,4,5],"labels":false,"grid":false,"tickSize":-3,"title":null}},
    "y":{"field":"y","type":"quantitative","scale":{"type":"log","domain":[0.01,51],"nice":false},
     "axis":{"orient":"left","values":[0.01,0.02,0.03,0.04,0.05,0.06,0.07,0.08,0.09,0.1,0.2,0.3,0.4,0.5,0.6,0.7,0.8,0.9,1,2,3,4,5,6,7,8,9,10,20,30,40,50],"labels":false,"grid":false,"tickSize":-3,"title":null}},
    "color":{"field":"label","type":"nominal","legend":null}
   }
  },
  {
   "transform":[{"filter":"datum.k=='b12' || datum.k=='b16'"}],
   "mark":{"type":"line","strokeWidth":2.4,"strokeDash":[5,3]},
   "encoding":{
    "x":{"field":"x","type":"quantitative","scale":{"type":"log","domain":[0.063,5.55],"nice":false},"axis":null},
    "y":{"field":"y","type":"quantitative","scale":{"type":"log","domain":[0.01,51],"nice":false},"axis":null},
    "color":{"field":"label","type":"nominal","legend":null}
   }
  },
  {
   "transform":[{"filter":"datum.k=='b12' || datum.k=='b16'"}],
   "mark":{"type":"point","shape":"circle","size":36,"strokeWidth":2.6,"filled":false},
   "encoding":{
    "x":{"field":"x","type":"quantitative","scale":{"type":"log","domain":[0.063,5.55],"nice":false},"axis":null},
    "y":{"field":"y","type":"quantitative","scale":{"type":"log","domain":[0.01,51],"nice":false},"axis":null},
    "color":{"field":"label","type":"nominal","legend":null}
   }
  },
  {
   "transform":[{"filter":"datum.k=='b17'"}],
   "mark":{"type":"line","strokeWidth":2.4},
   "encoding":{
    "x":{"field":"x","type":"quantitative","scale":{"type":"log","domain":[0.063,5.55],"nice":false},"axis":null},
    "y":{"field":"y","type":"quantitative","scale":{"type":"log","domain":[0.01,51],"nice":false},"axis":null},
    "color":{"field":"label","type":"nominal","legend":null}
   }
  },
  {
   "transform":[{"filter":"datum.k=='b17'"}],
   "mark":{"type":"point","shape":"circle","size":60,"filled":true,"opacity":1},
   "encoding":{
    "x":{"field":"x","type":"quantitative","scale":{"type":"log","domain":[0.063,5.55],"nice":false},"axis":null},
    "y":{"field":"y","type":"quantitative","scale":{"type":"log","domain":[0.01,51],"nice":false},"axis":null},
    "color":{"field":"label","type":"nominal","legend":null}
   }
  },
  {
   "data":{"values":[{"x":0.278,"y":0.1415,"t":"3C444"},{"x":2.51,"y":35.3,"t":"154MHz"}]},
   "mark":{"type":"text","fontSize":10,"color":"#262626","align":"center","baseline":"middle"},
   "encoding":{
    "x":{"field":"x","type":"quantitative","scale":{"type":"log","domain":[0.063,5.55],"nice":false},"axis":null},
    "y":{"field":"y","type":"quantitative","scale":{"type":"log","domain":[0.01,51],"nice":false},"axis":null},
    "text":{"field":"t"}
   }
  }
 ]
}
]
}
